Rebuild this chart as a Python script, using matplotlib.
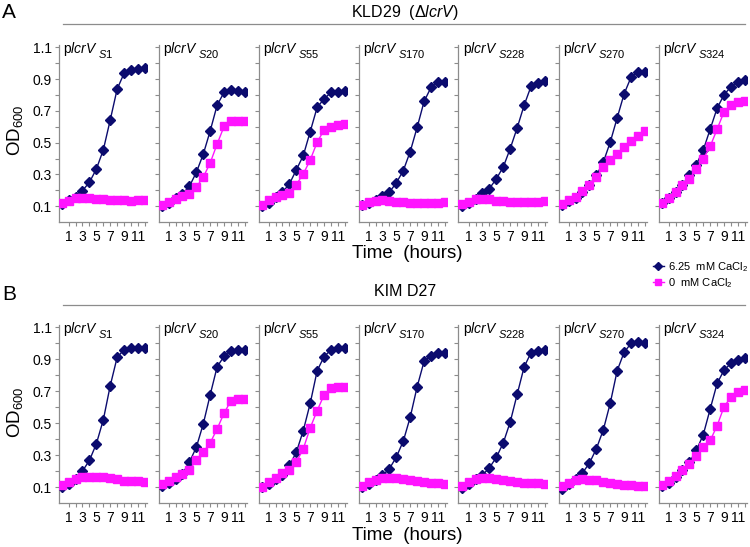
import numpy as np
import matplotlib
matplotlib.use("Agg")
import matplotlib.pyplot as plt
from matplotlib.lines import Line2D

plt.rcParams['font.family'] = ['Liberation Sans', 'DejaVu Sans']
plt.rcParams['mathtext.fontset'] = 'custom'
plt.rcParams['mathtext.rm'] = 'Liberation Sans'
plt.rcParams['mathtext.it'] = 'Liberation Sans:italic'
plt.rcParams['mathtext.bf'] = 'Liberation Sans:bold'

# данные
hours = np.arange(13)
constructs = ['S1', 'S20', 'S55', 'S170', 'S228', 'S270', 'S324']
tick_hours = [1, 3, 5, 7, 9, 11]
y_ticks_labeled = [0.1, 0.3, 0.5, 0.7, 0.9, 1.1]

# KLD29 (dlcrV), 6.25 mM CaCl2
kld29_ca = [
    [0.115, 0.136, 0.16, 0.198, 0.25, 0.334, 0.454, 0.643, 0.838, 0.937, 0.958, 0.964, 0.972],
    [0.10, 0.121, 0.15, 0.178, 0.225, 0.313, 0.428, 0.575, 0.737, 0.817, 0.832, 0.828, 0.817],
    [0.098, 0.121, 0.157, 0.188, 0.24, 0.329, 0.419, 0.57, 0.723, 0.775, 0.817, 0.817, 0.823],
    [0.104, 0.121, 0.14, 0.161, 0.188, 0.247, 0.324, 0.444, 0.597, 0.76, 0.848, 0.88, 0.88],
    [0.10, 0.121, 0.148, 0.18, 0.211, 0.272, 0.347, 0.463, 0.593, 0.735, 0.855, 0.878, 0.888],
    [0.104, 0.131, 0.152, 0.188, 0.236, 0.293, 0.377, 0.503, 0.656, 0.807, 0.912, 0.947, 0.947],
    [0.121, 0.152, 0.192, 0.236, 0.293, 0.362, 0.454, 0.586, 0.718, 0.802, 0.853, 0.884, 0.895],
]
# KLD29, 0 mM CaCl2
kld29_noca = [
    [0.12, 0.135, 0.152, 0.152, 0.152, 0.142, 0.142, 0.136, 0.136, 0.136, 0.13, 0.136, 0.136],
    [0.104, 0.125, 0.146, 0.163, 0.178, 0.22, 0.283, 0.373, 0.492, 0.603, 0.639, 0.639, 0.639],
    [0.104, 0.136, 0.157, 0.173, 0.184, 0.236, 0.303, 0.391, 0.503, 0.58, 0.601, 0.612, 0.618],
    [0.11, 0.125, 0.131, 0.136, 0.131, 0.125, 0.125, 0.121, 0.121, 0.121, 0.121, 0.121, 0.125],
    [0.113, 0.123, 0.142, 0.144, 0.142, 0.133, 0.133, 0.127, 0.127, 0.127, 0.127, 0.127, 0.133],
    [0.115, 0.136, 0.157, 0.194, 0.234, 0.282, 0.345, 0.391, 0.429, 0.471, 0.513, 0.544, 0.576],
    [0.121, 0.152, 0.192, 0.234, 0.272, 0.331, 0.398, 0.477, 0.586, 0.695, 0.739, 0.758, 0.765],
]
# KIM D27, 6.25 mM CaCl2
kimd27_ca = [
    [0.10, 0.121, 0.152, 0.20, 0.267, 0.371, 0.521, 0.735, 0.913, 0.96, 0.969, 0.969, 0.969],
    [0.106, 0.127, 0.152, 0.183, 0.256, 0.35, 0.496, 0.679, 0.854, 0.919, 0.95, 0.958, 0.958],
    [0.10, 0.121, 0.148, 0.173, 0.235, 0.319, 0.454, 0.625, 0.829, 0.917, 0.96, 0.969, 0.969],
    [0.10, 0.117, 0.142, 0.173, 0.215, 0.288, 0.388, 0.538, 0.729, 0.888, 0.923, 0.94, 0.94],
    [0.096, 0.119, 0.148, 0.175, 0.221, 0.286, 0.377, 0.508, 0.681, 0.852, 0.942, 0.952, 0.956],
    [0.09, 0.117, 0.148, 0.188, 0.25, 0.34, 0.458, 0.625, 0.829, 0.944, 1.0, 1.008, 1.0],
    [0.106, 0.127, 0.163, 0.204, 0.256, 0.329, 0.429, 0.59, 0.75, 0.833, 0.875, 0.896, 0.906],
]
# KIM D27, 0 mM CaCl2
kimd27_noca = [
    [0.11, 0.131, 0.148, 0.163, 0.163, 0.163, 0.163, 0.158, 0.148, 0.138, 0.138, 0.138, 0.131],
    [0.117, 0.138, 0.163, 0.183, 0.208, 0.267, 0.319, 0.377, 0.465, 0.563, 0.642, 0.652, 0.652],
    [0.10, 0.131, 0.158, 0.188, 0.204, 0.256, 0.34, 0.471, 0.579, 0.677, 0.719, 0.729, 0.729],
    [0.106, 0.131, 0.146, 0.156, 0.158, 0.158, 0.148, 0.142, 0.135, 0.131, 0.127, 0.127, 0.117],
    [0.108, 0.129, 0.15, 0.154, 0.154, 0.15, 0.144, 0.138, 0.129, 0.123, 0.123, 0.123, 0.117],
    [0.106, 0.127, 0.142, 0.152, 0.146, 0.142, 0.131, 0.125, 0.117, 0.11, 0.11, 0.104, 0.104],
    [0.11, 0.138, 0.167, 0.204, 0.246, 0.294, 0.35, 0.392, 0.485, 0.604, 0.663, 0.694, 0.708],
]

NAVY = '#0b0b6e'
MAGENTA = '#ff14ff'
GRAY = '#8c8c8c'

W, H = 750, 547
fig = plt.figure(figsize=(W / 100, H / 100), dpi=100)


def draw_row(top_px, bottom_px, ca, noca):
    axes = []
    for i, name in enumerate(constructs):
        left_px = 58.5 + i * 100
        ax = fig.add_axes([left_px / W, 1 - bottom_px / H, 88.5 / W, (bottom_px - top_px) / H])
        ax.plot(hours, ca[i], color=NAVY, marker='D', markersize=5.4, lw=1.0, zorder=3)
        ax.plot(hours, noca[i], color=MAGENTA, marker='s', markersize=5.4, lw=1.0, zorder=4)
        ax.set_xlim(-0.46, 12.3)
        ax.set_ylim(0, 1.115)
        for s in ['top', 'right']:
            ax.spines[s].set_visible(False)
        for s in ['left', 'bottom']:
            ax.spines[s].set_color(GRAY)
            ax.spines[s].set_linewidth(0.9)
        ax.set_xticks(tick_hours)
        ax.set_xticklabels([str(t) for t in tick_hours])
        ax.set_xticks(range(1, 13), minor=True)
        ax.set_yticks(np.arange(0.1, 1.15, 0.1), minor=True)
        ax.set_yticks(y_ticks_labeled)
        if i == 0:
            ax.set_yticklabels([f'{v:.1f}' for v in y_ticks_labeled])
        else:
            ax.set_yticklabels([])
        ax.tick_params(which='both', colors=GRAY, labelcolor='black', labelsize=10,
                       length=3, width=0.8, pad=2)
        ax.tick_params(axis='x', pad=3)
        # подпись панели: p + lcrV курсивом + индекс
        t = ax.text(0.05, 0.955, 'p$\\mathit{lcrV}$', transform=ax.transAxes,
                    fontsize=10, ha='left', va='baseline')
        ax.annotate('$\\mathit{' + name + '}$', xy=(1, 0), xycoords=t,
                    xytext=(0.3, 0.3), textcoords='offset points',
                    fontsize=8, ha='left', va='baseline')
        axes.append(ax)
    return axes


top_axes = draw_row(45, 222, kld29_ca, kld29_noca)
bot_axes = draw_row(325, 503, kimd27_ca, kimd27_noca)

# подписи и линии
for y_line, title, y_title, letter, y_letter, y_time, y_od in [
        (24, 'KLD29  ($\\Delta\\mathit{lcrV}$)', 13, 'A', 12, 254, 130),
        (305, 'KIM D27', 292, 'B', 295, 536, 412)]:
    fig.add_artist(Line2D([63 / W, 745 / W], [1 - y_line / H] * 2, color=GRAY, lw=0.9))
    fig.text(405 / W, 1 - y_title / H, title, ha='center', va='center', fontsize=11.5)
    fig.text(2 / W, 1 - y_letter / H, letter, ha='left', va='center', fontsize=15)
    fig.text(407 / W, 1 - y_time / H, 'Time  (hours)', ha='center', va='center', fontsize=13.5)
    fig.text(15 / W, 1 - y_od / H, 'OD$_{600}$', ha='center', va='center', fontsize=13.5,
             rotation=90)

handles = [Line2D([], [], color=NAVY, marker='D', markersize=4, lw=1.0),
           Line2D([], [], color=MAGENTA, marker='s', markersize=4, lw=1.0)]
fig.legend(handles, ['6.25  mM CaCl$_2$', '0  mM CaCl$_2$'], loc='upper left',
           bbox_to_anchor=(645 / W, 1 - 252 / H), frameon=False, fontsize=8,
           handlelength=1.0, handletextpad=0.4, labelspacing=0.25, borderpad=0.2)

fig.savefig('out.png', dpi=100)
